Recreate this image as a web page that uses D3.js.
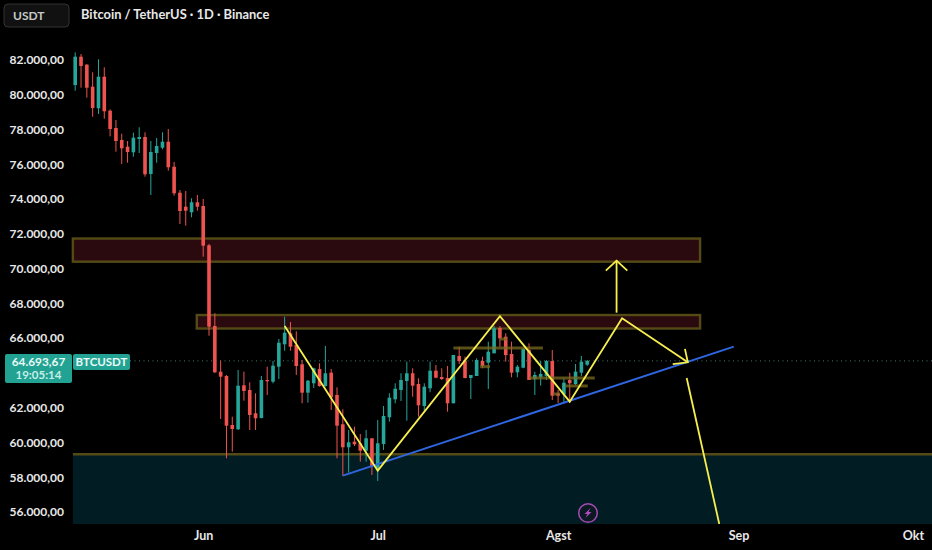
<!DOCTYPE html>
<html><head><meta charset="utf-8">
<script src="https://cdn.jsdelivr.net/npm/d3@7/dist/d3.min.js"></script>
<style>html,body{margin:0;padding:0;background:#000;overflow:hidden}svg{display:block}text{font-family:Lato,"Open Sans",sans-serif}</style>
</head><body><svg id="c" width="932" height="550"></svg>
<script>
const firstDay = "2024-05-10";
const opens = [80560,82190,81729,80464,79222,81039,79084,78088,77398,77013,76691,77456,77571,75443,76650,76955,77300,75862,74367,73562,73240,73815,73602,71341,66699,64071,63823,61005,60758,63289,63018,61678,61408,63593,63496,64358,65647,66280,65607,64496,62863,63403,64226,63248,64013,62731,61045,59722,60044,59952,59527,60240,58474,59912,61448,62483,63018,63536,63979,63363,62098,63116,64128,63766,63708,62253,64974,64704,63708,63823,64686,64589,65129,66584,66084,65089,64036,64301,65319,63634,63749,63823,64686,62828,62771,63593,63363,64013,64474];
const highs = [82440,82345,81770,81292,82040,81580,79164,78549,77761,77341,77818,78129,77841,77341,77513,77841,78031,76133,74522,74465,74045,74235,74005,71416,67430,64704,63881,61482,64169,64071,63461,62828,63823,64358,64686,65952,67234,66930,66395,64744,63593,64301,64554,65549,64226,63174,61908,60717,60907,60487,60717,60240,61293,62098,62828,63403,63979,64646,64266,63691,63403,64646,64456,64266,64399,65031,65509,64934,63881,64842,64934,65796,66699,66699,66280,65796,64456,65417,65704,64071,64686,64744,65319,63018,63691,64013,64514,64974,64744];
const lows = [80230,80406,79831,78738,78894,78623,77611,76725,76018,76093,76438,76650,75287,74235,76093,76864,75632,74194,72567,72469,72952,73332,70686,66141,63996,61350,59090,59469,60717,62403,60717,60717,61390,62731,63403,63651,65279,65279,63881,62253,62288,63133,63208,63208,61868,59090,58071,58261,59797,58894,58894,58129,57784,59567,61195,62253,62385,61252,62633,61482,61770,62886,63691,63593,61770,62253,64514,63691,62501,63823,64266,63076,65129,65509,64646,63749,63749,64266,63593,62731,63266,63593,62443,62270,62311,62270,63306,63823,64399];
const closes = [82190,81655,80406,79239,81039,79049,78031,77341,76921,76708,77530,77571,75425,76708,77053,77300,75828,74332,73314,73332,73815,73562,71318,66659,64036,63783,60965,60775,63266,62961,61580,61390,63593,63519,64416,65739,66314,65509,64399,62863,63553,64266,63248,63979,62599,60965,59722,60010,59895,59527,60240,58647,59952,61523,62575,63093,63593,63979,63266,62138,63208,64128,63726,63651,62253,65031,64686,63708,63881,64744,64399,65221,66567,65992,65031,64013,64358,65377,63593,63881,63939,64686,62690,62690,63438,63403,64071,64646,64693];

const priceTicks = [82000,80000,78000,76000,74000,72000,70000,68000,66000,62000,60000,58000,56000];
const monthTicks = [["2024-06-01","Jun"],["2024-07-01","Jul"],["2024-08-01","Agst"],["2024-09-01","Sep"],["2024-10-01","Okt"]];
const lastPrice = 64693.67;
const titleText = "Bitcoin / TetherUS · 1D · Binance";
const currencyText = "USDT";
const countdownText = "19:05:14";
const symbolText = "BTCUSDT";

// annotations: [day offset from firstDay, price]
const zigzag = [[36,66700],[52,58380],[73,67270],[85,62350],[94,67140],[105.3,64610]];
const zigzagHead = [[104.8,65380],[105.3,64610],[102.7,64500]];
const upShaft = [[93.05,67465],[93.05,70460]];
const upHead = [[91.2,69880],[93.05,70460],[94.9,69880]];
const downLine = [[105.1,63710],[110.7,55310]];
const trend = [[46,58090],[113.2,65510]];
// zones: [day start, day end, price top, price bottom]
const redZones = [[-0.4,107.4,71730,70400],[20.9,107.4,67330,66555]];
const tealZone = [-0.4,147.5,59320,55310];
const miniZones = [[65,80.4,65430],[78.1,89.3,63710],[84.2,88.1,63250],[69.6,71.3,64360],[73,74.2,65950],[82.1,83.3,62790]];

const day0 = new Date(firstDay+"T00:00:00Z");
const dayDate = n => new Date(+day0 + n*864e5);
const x = d3.scaleUtc().domain([day0,new Date("2024-10-01T00:00:00Z")]).range([75.2,913]);
const y = d3.scaleLinear().domain([82000,56000]).range([60,512]);
const fmtP = v => d3.format(",.2f")(v).replace(/,/g,"#").replace(".",",").replace(/#/g,".");
const svg = d3.select("#c");
const plotH = 524;
svg.append("rect").attr("width",932).attr("height",550).attr("fill","#000");
svg.append("clipPath").attr("id","pc").append("rect").attr("x",0).attr("y",0).attr("width",932).attr("height",plotH);
const plot = svg.append("g").attr("clip-path","url(#pc)");
const borderCol = "#544a16";

// teal support zone
plot.append("rect").attr("x",x(dayDate(tealZone[0]))).attr("width",x(dayDate(tealZone[1]))-x(dayDate(tealZone[0])))
  .attr("y",y(tealZone[2])).attr("height",y(tealZone[3])-y(tealZone[2])).attr("fill","#021c23");
plot.append("line").attr("x1",x(dayDate(tealZone[0]))).attr("x2",x(dayDate(tealZone[1])))
  .attr("y1",y(tealZone[2])).attr("y2",y(tealZone[2])).attr("stroke",borderCol).attr("stroke-width",2.4);

// resistance zones
plot.selectAll("rect.z").data(redZones).join("rect").attr("class","z")
  .attr("x",d=>x(dayDate(d[0]))).attr("width",d=>x(dayDate(d[1]))-x(dayDate(d[0])))
  .attr("y",d=>y(d[2])).attr("height",d=>y(d[3])-y(d[2]))
  .attr("fill","#2a0a0f").attr("stroke",borderCol).attr("stroke-width",2.4);

// last price line
plot.append("line").attr("x1",130).attr("x2",932).attr("y1",y(lastPrice)).attr("y2",y(lastPrice))
  .attr("stroke","#3c7a70").attr("stroke-width",1).attr("stroke-dasharray","1 3.5");

// candles
const candles = opens.map((o,i)=>({i,o,h:highs[i],l:lows[i],c:closes[i]}));
const col = d=>d.c>=d.o?"#26a69a":"#ef5350";
const cg = plot.append("g");
cg.selectAll("line").data(candles).join("line")
  .attr("x1",d=>x(dayDate(d.i))).attr("x2",d=>x(dayDate(d.i)))
  .attr("y1",d=>y(d.h)).attr("y2",d=>y(d.l)).attr("stroke",col).attr("stroke-width",1);
cg.selectAll("rect").data(candles).join("rect")
  .attr("x",d=>x(dayDate(d.i))-1.8).attr("width",3.6)
  .attr("y",d=>y(Math.max(d.o,d.c))).attr("height",d=>Math.max(1,Math.abs(y(d.o)-y(d.c))))
  .attr("fill",col);

// mini zones
plot.selectAll("line.m").data(miniZones).join("line").attr("class","m")
  .attr("x1",d=>x(dayDate(d[0]))).attr("x2",d=>x(dayDate(d[1])))
  .attr("y1",d=>y(d[2])).attr("y2",d=>y(d[2]))
  .attr("stroke","#7a6a20").attr("stroke-opacity",.75).attr("stroke-width",3);

// drawings
const ln = d3.line().x(d=>x(dayDate(d[0]))).y(d=>y(d[1]));
const yellow = "#f7ef4e";
plot.append("path").attr("d",ln(trend)).attr("fill","none").attr("stroke","#2f66e0").attr("stroke-width",2);
[zigzag,zigzagHead,upShaft,upHead,downLine].forEach(s=>
  plot.append("path").attr("d",ln(s)).attr("fill","none").attr("stroke",yellow).attr("stroke-width",1.8).attr("stroke-linejoin","miter"));

// price axis
const yAxis = d3.axisLeft(y).tickValues(priceTicks).tickFormat(fmtP).tickSize(0);
const ga = svg.append("g").attr("transform","translate(68,0)").call(yAxis);
ga.select(".domain").remove();
ga.selectAll("text").attr("fill","#e8e8e8").attr("font-size",12).attr("font-family","Lato").attr("font-weight",700).attr("dx",-1);

// time axis
const xAxis = d3.axisBottom(x).tickValues(monthTicks.map(d=>new Date(d[0]+"T00:00:00Z")))
  .tickFormat((d,i)=>monthTicks[i][1]).tickSize(0);
const gx = svg.append("g").attr("transform","translate(0,528)").call(xAxis);
gx.select(".domain").remove();
gx.selectAll("text").attr("fill","#e8e8e8").attr("font-size",12.5).attr("font-family","Lato").attr("font-weight",700);

// last price tag
svg.append("rect").attr("x",5).attr("y",354).attr("width",67).attr("height",29).attr("rx",2).attr("fill","#22a292");
svg.append("text").attr("x",38.5).attr("y",365.5).attr("text-anchor","middle").attr("fill","#eafaf7").attr("font-size",11.8).attr("font-weight",700).text(fmtP(lastPrice));
svg.append("text").attr("x",38.5).attr("y",379).attr("text-anchor","middle").attr("fill","#c8eee8").attr("font-size",11.5).attr("font-weight",700).text(countdownText);
svg.append("rect").attr("x",73).attr("y",354).attr("width",57).attr("height",16).attr("rx",2).attr("fill","#22a292");
svg.append("text").attr("x",101.5).attr("y",366).attr("text-anchor","middle").attr("fill","#eafaf7").attr("font-size",11.5).attr("font-weight",700).text(symbolText);

// header
svg.append("rect").attr("x",4).attr("y",4).attr("width",65).attr("height",23).attr("rx",4).attr("fill","#111").attr("stroke","#333");
svg.append("text").attr("x",13).attr("y",20).attr("fill","#c8c8c8").attr("font-size",12).attr("font-weight",700).text(currencyText);
svg.append("text").attr("x",81).attr("y",19).attr("fill","#e8e8e8").attr("font-size",12.9).attr("font-weight",700).text(titleText);

// lightning icon
const icon = svg.append("g").attr("transform","translate(588,513)");
icon.append("circle").attr("r",9.3).attr("fill","#0b1a22").attr("stroke","#a24bb2").attr("stroke-width",1.5);
icon.append("path").attr("d","M2.5,-5 L-3.5,1 L-0.5,1 L-2.5,5 L3.5,-1 L0.5,-1 Z").attr("fill","#b04bc0");
</script></body></html>
